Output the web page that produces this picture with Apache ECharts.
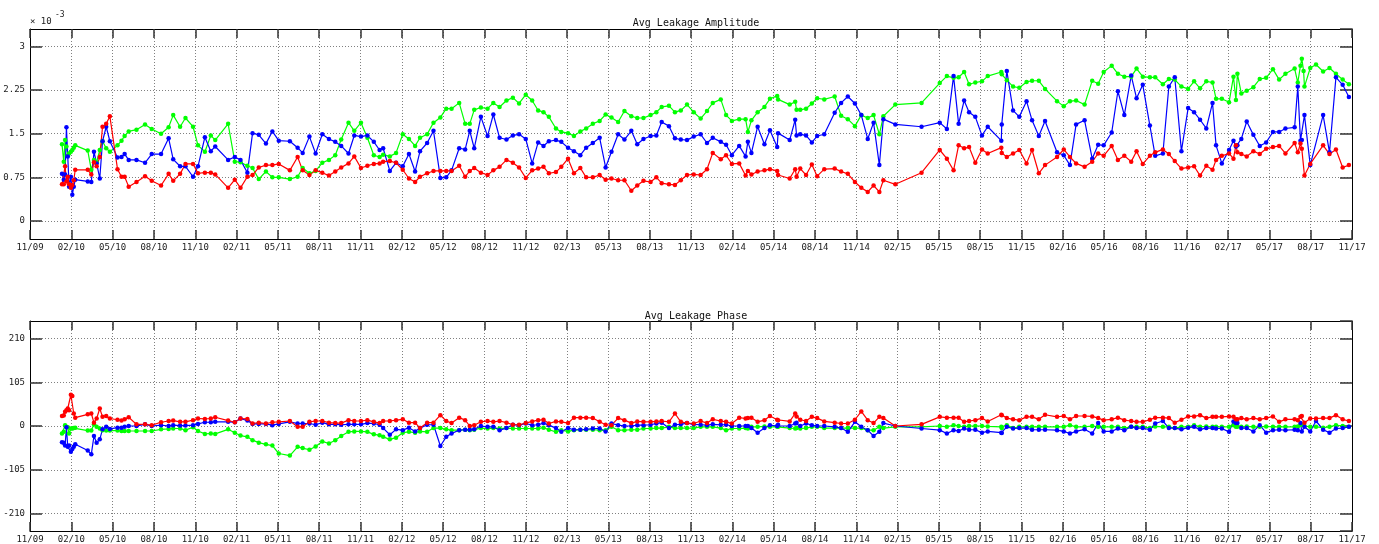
<!DOCTYPE html>
<html><head><meta charset="utf-8">
<script src="https://cdn.jsdelivr.net/npm/echarts@6/dist/echarts.min.js"></script>
<style>html,body{margin:0;padding:0;background:#fff}#c{width:1379px;height:544px}</style>
</head><body><div id="c"></div>
<script>
// x tick labels (every 3 months from Nov 2009)
const tickLabels = ['11/09','02/10','05/10','08/10','11/10','02/11','05/11','08/11','11/11','02/12','05/12','08/12','11/12','02/13','05/13','08/13','11/13','02/14','05/14','08/14','11/14','02/15','05/15','08/15','11/15','02/16','05/16','08/16','11/16','02/17','05/17','08/17','11/17'];
const ampTicks = [0, 0.75, 1.5, 2.25, 3];
const phaseTicks = [-210, -105, 0, 105, 210];

const dates = [
'2010-01-11','2010-01-15','2010-01-18','2010-01-21','2010-01-24','2010-01-27','2010-01-31','2010-02-03','2010-02-06','2010-02-09',
'2010-03-07','2010-03-15','2010-03-21','2010-03-27','2010-04-03','2010-04-09','2010-04-17','2010-04-25','2010-05-12','2010-05-21',
'2010-05-28','2010-06-06','2010-06-23','2010-07-12','2010-07-27','2010-08-17','2010-09-03','2010-09-13','2010-09-28','2010-10-10',
'2010-10-27','2010-11-07','2010-11-22','2010-12-05','2010-12-15','2011-01-13','2011-01-28','2011-02-09','2011-02-23','2011-03-06',
'2011-03-20','2011-04-05','2011-04-19','2011-05-03','2011-05-28','2011-06-14','2011-06-25','2011-07-10','2011-07-24','2011-08-08',
'2011-08-23','2011-09-06','2011-09-19','2011-10-05','2011-10-18','2011-11-02','2011-11-16','2011-11-30','2011-12-13','2011-12-21',
'2012-01-05','2012-01-19','2012-02-03','2012-02-16','2012-02-29','2012-03-11','2012-03-27','2012-04-10','2012-04-25','2012-05-08',
'2012-05-20','2012-06-06','2012-06-19','2012-06-29','2012-07-09','2012-07-24','2012-08-08','2012-08-21','2012-09-04','2012-09-19',
'2012-10-03','2012-10-17','2012-11-01','2012-11-15','2012-11-28','2012-12-10','2012-12-22','2013-01-07','2013-01-19','2013-02-03',
'2013-02-15','2013-02-28','2013-03-13','2013-03-28','2013-04-12','2013-04-25','2013-05-08','2013-05-23','2013-06-06','2013-06-21',
'2013-07-04','2013-07-18','2013-08-03','2013-08-16','2013-08-28','2013-09-13','2013-09-26','2013-10-09','2013-10-23','2013-11-07',
'2013-11-22','2013-12-06','2013-12-19','2014-01-06','2014-01-18','2014-01-31','2014-02-15','2014-02-28','2014-03-05','2014-03-13',
'2014-03-27','2014-04-11','2014-04-23','2014-05-09','2014-05-11','2014-06-06','2014-06-18','2014-06-21','2014-06-29','2014-07-12',
'2014-07-25','2014-08-06','2014-08-22','2014-09-14','2014-09-28','2014-10-13','2014-10-29','2014-11-12','2014-11-26','2014-12-09',
'2014-12-22','2014-12-31','2015-01-27','2015-03-24','2015-05-03','2015-05-19','2015-06-03','2015-06-14','2015-06-26','2015-07-07',
'2015-07-21','2015-08-05','2015-08-18','2015-09-17','2015-09-18','2015-09-29','2015-10-13','2015-10-27','2015-11-12','2015-11-24',
'2015-12-09','2015-12-23','2016-01-19','2016-02-03','2016-02-16','2016-02-29','2016-03-19','2016-04-05','2016-04-18','2016-04-30',
'2016-05-18','2016-06-01','2016-06-15','2016-06-30','2016-07-12','2016-07-26','2016-08-11','2016-08-23','2016-09-09','2016-09-22',
'2016-10-05','2016-10-20','2016-11-04','2016-11-17','2016-11-30','2016-12-14','2016-12-28','2017-01-05','2017-01-18','2017-02-03',
'2017-02-12','2017-02-17','2017-02-20','2017-02-28','2017-03-12','2017-03-27','2017-04-10','2017-04-24','2017-05-09','2017-05-23',
'2017-06-06','2017-06-26','2017-07-03','2017-07-09','2017-07-12','2017-07-16','2017-07-18','2017-07-31','2017-08-13','2017-08-29',
'2017-09-12','2017-09-26','2017-10-11','2017-10-25'];

// Avg leakage amplitude (x 10^-3)
const ampBlue = [
0.81,0.71,0.80,1.61,1.11,0.59,0.76,0.45,0.59,0.71,
0.68,0.67,1.19,0.99,0.73,1.37,1.62,1.37,1.09,1.10,
1.15,1.05,1.05,1.00,1.15,1.15,1.42,1.06,0.94,0.94,
0.76,0.94,1.44,1.20,1.28,1.05,1.10,1.05,0.83,1.51,
1.48,1.33,1.54,1.38,1.37,1.26,1.17,1.45,1.16,1.49,
1.41,1.36,1.29,1.16,1.47,1.45,1.47,1.36,1.22,1.25,
0.86,1.00,0.94,1.15,0.85,1.20,1.34,1.55,0.74,0.75,
0.87,1.25,1.23,1.55,1.25,1.79,1.46,1.83,1.43,1.40,
1.47,1.49,1.41,0.99,1.35,1.29,1.37,1.39,1.36,1.26,
1.20,1.13,1.26,1.34,1.43,0.92,1.19,1.49,1.40,1.55,
1.32,1.41,1.46,1.47,1.70,1.63,1.42,1.40,1.39,1.45,
1.49,1.34,1.43,1.36,1.31,1.13,1.29,1.11,1.36,1.17,
1.62,1.32,1.56,1.27,1.51,1.39,1.74,1.47,1.49,1.47,
1.35,1.46,1.49,1.86,2.03,2.14,2.02,1.82,1.41,1.69,
0.96,1.75,1.66,1.62,1.69,1.58,2.49,1.67,2.07,1.87,
1.79,1.47,1.62,1.38,1.66,2.58,1.90,1.79,2.06,1.73,
1.46,1.72,1.18,1.13,0.96,1.66,1.73,1.07,1.31,1.30,
1.52,2.23,1.82,2.50,2.11,2.34,1.64,1.12,1.16,2.31,
2.47,1.20,1.94,1.87,1.74,1.59,2.03,1.30,0.99,1.22,
1.38,1.28,1.30,1.41,1.71,1.48,1.29,1.35,1.53,1.53,
1.59,1.61,2.31,1.38,1.39,null,1.82,0.96,null,1.82,
1.18,2.47,2.34,2.13];
const ampGreen = [
1.32,1.02,1.39,1.28,1.12,1.16,1.19,1.22,1.26,1.30,
1.21,0.88,1.05,1.01,1.22,1.37,1.25,1.19,1.30,1.38,
1.46,1.54,1.57,1.66,1.58,1.50,1.61,1.82,1.62,1.77,
1.62,1.30,1.19,1.47,1.39,1.67,1.02,1.01,0.95,0.91,
0.72,0.85,0.75,0.75,0.72,0.76,0.91,0.82,0.86,1.00,
1.05,1.13,1.40,1.69,1.55,1.69,1.43,1.13,1.10,1.14,
1.11,1.17,1.49,1.41,1.29,1.43,1.49,1.69,1.78,1.93,
1.93,2.03,1.67,1.67,1.91,1.95,1.93,2.03,1.96,2.07,
2.12,2.02,2.17,2.07,1.90,1.87,1.79,1.59,1.53,1.51,
1.46,1.54,1.59,1.67,1.72,1.83,1.78,1.70,1.89,1.80,
1.77,1.77,1.82,1.87,1.96,1.98,1.87,1.90,2.00,1.87,
1.76,1.89,2.03,2.09,1.82,1.72,1.75,1.75,1.53,1.73,
1.87,1.96,2.10,2.15,2.09,2.00,2.05,1.91,1.91,1.93,
2.02,2.11,2.09,2.14,1.81,1.75,1.63,1.82,1.77,1.82,
1.49,1.80,2.00,2.03,2.37,2.49,2.46,2.47,2.56,2.35,
2.38,2.40,2.49,2.56,2.52,2.42,2.31,2.29,2.39,2.41,
2.41,2.27,2.06,1.97,2.06,2.07,2.00,2.41,2.36,2.56,
2.67,2.53,2.48,2.48,2.62,2.48,2.47,2.47,2.35,2.44,
2.43,2.31,2.27,2.40,2.28,2.40,2.38,2.10,2.10,2.04,
2.48,2.08,2.53,2.19,2.24,2.30,2.44,2.46,2.61,2.43,
2.53,2.62,2.38,2.67,2.79,2.58,2.31,2.63,2.69,2.57,
2.63,2.53,2.43,2.35];
const ampRed = [
0.63,0.63,0.94,0.68,0.76,0.63,0.57,0.62,0.70,0.88,
0.88,0.80,1.01,0.94,1.10,1.62,1.67,1.80,0.89,0.76,
0.76,0.59,0.67,0.77,0.69,0.61,0.81,0.69,0.81,0.98,
0.98,0.82,0.83,0.83,0.80,0.57,0.71,0.57,0.76,0.79,
0.92,0.96,0.96,0.98,0.87,1.10,0.87,0.79,0.87,0.83,
0.78,0.85,0.92,0.99,1.11,0.91,0.95,0.98,0.99,1.02,
1.03,1.00,0.88,0.73,0.67,0.76,0.82,0.86,0.86,0.86,
0.86,0.95,0.76,0.86,0.91,0.83,0.79,0.87,0.93,1.05,
1.00,0.92,0.74,0.87,0.90,0.93,0.82,0.84,0.93,1.07,
0.82,0.91,0.75,0.75,0.79,0.71,0.73,0.70,0.70,0.52,
0.61,0.69,0.67,0.75,0.65,0.63,0.62,0.70,0.79,0.80,
0.79,0.89,1.17,1.06,1.13,0.98,0.99,0.78,0.86,0.80,
0.85,0.87,0.89,0.86,0.79,0.73,0.89,0.76,0.90,0.79,
0.97,0.77,0.89,0.90,0.85,0.81,0.67,0.57,0.50,0.61,
0.50,0.70,0.63,0.83,1.22,1.07,0.87,1.30,1.25,1.27,
1.00,1.23,1.16,1.26,1.17,1.10,1.16,1.22,0.99,1.22,
0.82,0.96,1.10,1.23,1.10,0.99,0.93,1.02,1.16,1.12,
1.29,1.05,1.12,1.02,1.20,0.98,1.12,1.18,1.23,1.15,
1.03,0.90,0.92,0.94,0.78,0.95,0.88,1.05,1.12,1.16,
1.07,1.30,1.18,1.15,1.11,1.20,1.15,1.24,1.27,1.29,
1.16,1.34,1.18,1.33,1.24,null,0.78,0.98,null,1.30,
1.15,1.23,0.92,0.96];

// Avg leakage phase (degrees)
const phaseBlue = [
-39,-40,-47,-3,-50,-47,-62,-55,-50,-44,
-59,-68,-24,-40,-32,-8,-2,-7,-4,-4,
-2,0,0,4,0,2,0,2,1,1,
2,5,9,9,10,10,9,18,13,5,
5,5,2,5,10,6,6,6,3,8,
4,4,3,4,4,4,7,6,3,-5,
-21,-8,-10,-4,-13,-5,3,3,-48,-26,
-18,-10,-9,-9,-8,0,-2,-2,-10,-5,
3,2,6,2,3,7,2,-5,-14,-5,
-9,-9,-8,-6,-6,-13,6,2,0,0,
2,2,3,6,8,-5,3,4,7,4,
3,2,4,3,3,0,0,0,0,-5,
-16,-5,2,0,3,0,6,8,0,6,
2,0,0,-2,-5,-14,10,-2,-10,-24,
-14,7,0,-6,-10,-18,-10,-12,-6,-9,
-9,-16,-13,-16,-17,-2,-6,-5,-5,-9,
-9,-9,-10,-13,-18,-13,-8,-18,7,-13,
-13,-6,-10,-2,-5,-5,-9,6,12,-5,
-5,-8,-4,-2,-8,-5,-5,-6,-6,-14,
11,7,7,-5,-5,-13,2,-16,-10,-9,
-10,-9,-10,7,-13,null,-2,-13,12,-9,
-16,-6,-5,-2];
const phaseGreen = [
-18,-14,2,-2,-3,-18,-6,-6,-5,-4,
-11,-11,4,-2,-6,-10,-11,-11,-11,-12,
-12,-12,-12,-12,-12,-8,-7,-6,-6,-10,
-3,-12,-19,-18,-19,-8,-16,-23,-26,-34,
-40,-44,-47,-66,-71,-50,-53,-57,-49,-37,
-42,-34,-24,-14,-13,-13,-14,-20,-22,-26,
-32,-28,-16,-14,-16,-13,-14,-5,-5,-8,
-10,-10,-9,-10,-9,-5,-6,-5,-6,-5,
-6,-6,-6,-6,-6,-4,-9,-14,-10,-13,
-10,-9,-9,-9,-10,-10,-2,-10,-10,-9,
-9,-6,-6,-5,-5,-2,-5,-5,-5,-5,
-2,-2,-2,-5,-10,-6,-6,-5,-6,-2,
-2,-1,-2,-2,-2,-5,-6,-5,-6,-5,
-2,-2,-5,-5,-5,-5,-5,-5,-10,-10,
-2,-5,-2,-2,0,-2,2,0,-2,0,
0,0,-1,-2,-5,2,-5,-2,-2,-2,
-2,-2,-2,-2,2,-2,-2,0,-2,-2,
-2,-2,-5,-2,-2,-2,-5,-1,-2,-2,
-5,-2,-2,2,-2,-1,-2,-2,-2,-2,
2,-2,-2,-2,-1,-2,-2,-1,-2,-2,
-2,-2,-1,3,3,null,0,-2,-2,-4,
-2,2,0,-2];
const phaseRed = [
24,25,34,38,42,38,75,72,30,20,
28,30,8,18,42,22,24,18,15,13,
16,21,4,4,2,9,12,13,10,10,
14,18,17,18,21,13,9,18,17,6,
8,6,9,10,12,-2,-2,10,12,12,
8,7,7,14,12,12,14,10,7,12,
12,14,16,8,8,-5,8,8,26,12,
7,20,14,0,2,10,12,10,12,8,
3,3,7,11,14,15,6,11,10,7,
20,20,20,19,10,3,2,19,14,7,
11,10,10,11,12,10,30,10,7,6,
12,7,16,12,10,6,20,18,19,20,
10,14,24,15,14,11,30,23,15,12,
22,19,11,8,6,6,15,35,14,7,
22,19,0,4,22,20,20,20,10,12,
14,19,11,27,26,19,16,14,22,22,
16,27,22,24,16,24,24,23,19,14,
16,20,14,12,10,10,15,20,20,19,
8,15,23,23,26,19,22,22,22,23,
22,16,16,19,16,19,16,19,23,10,
16,16,14,22,24,null,8,18,18,19,
19,26,16,12];

// months elapsed since 1 Nov 2009 (fractional)
function monthIndex(s) {
  const p = s.split('-').map(Number);
  const dim = new Date(p[0], p[1], 0).getDate();
  return (p[0] - 2009) * 12 + (p[1] - 11) + (p[2] - 1) / dim;
}
function pairs(vals) {
  const out = [];
  dates.forEach((d, i) => { if (vals[i] != null) out.push([monthIndex(d), vals[i]]); });
  return out;
}

const FONT = 'DejaVu Sans Mono';
const GRIDS = [{left: 30, right: 27, top: 29, height: 210}, {left: 30, right: 27, top: 321, height: 210}];
const splitStyle = {show: true, lineStyle: {color: '#808080', width: 1, type: [1, 2]}};
const tickStyle = {lineStyle: {color: '#333', width: 1.5}};

function xAxes(gi) {
  const base = {type: 'value', gridIndex: gi, min: 0, max: tickLabels.length * 3 - 3, interval: 3,
    axisLine: {show: true, onZero: false, lineStyle: {color: '#000', width: 1}}};
  return [
    Object.assign({}, base, {position: 'bottom',
      axisTick: Object.assign({show: true, inside: true, length: 9}, tickStyle),
      axisLabel: {show: true, fontFamily: FONT, fontSize: 9, color: '#222', margin: 4,
        formatter: v => tickLabels[Math.round(v / 3)] || ''},
      splitLine: splitStyle}),
    Object.assign({}, base, {position: 'top',
      axisTick: Object.assign({show: true, inside: true, length: 9}, tickStyle),
      axisLabel: {show: false}, splitLine: {show: false}})
  ];
}
function yAxes(gi, min, max, ticks) {
  const step = ticks[1] - ticks[0];
  const base = {type: 'value', gridIndex: gi, min: min, max: max, minInterval: step, maxInterval: step,
    axisLine: {show: true, onZero: false, lineStyle: {color: '#000', width: 1}}};
  return [
    Object.assign({}, base, {position: 'left',
      axisTick: Object.assign({show: true, inside: true, length: 12}, tickStyle),
      axisLabel: {show: true, fontFamily: FONT, fontSize: 9, color: '#222', margin: 5,
        showMinLabel: false, showMaxLabel: false,
        formatter: v => {
          const t = ticks.find(tv => Math.abs(tv - v) < 1e-6);
          return t === undefined ? '' : String(t);
        }},
      splitLine: splitStyle}),
    Object.assign({}, base, {position: 'right',
      axisTick: Object.assign({show: true, inside: true, length: 12}, tickStyle),
      axisLabel: {show: false}, splitLine: {show: false}})
  ];
}

function lineSeries(name, color, xi, yi, vals) {
  return {name: name, type: 'line', xAxisIndex: xi, yAxisIndex: yi, data: pairs(vals),
    symbol: 'circle', symbolSize: 4.5, showSymbol: true, connectNulls: true,
    lineStyle: {color: color, width: 1.2}, itemStyle: {color: color}, animation: false, z: 3};
}

const chart = echarts.init(document.getElementById('c'), null, {renderer: 'canvas'});
chart.setOption({
  backgroundColor: '#fff',
  animation: false,
  title: [
    {text: 'Avg Leakage Amplitude', left: 691, top: 13, textAlign: 'center',
      textStyle: {fontFamily: FONT, fontSize: 10, fontWeight: 'normal', color: '#111'}},
    {text: 'Avg Leakage Phase', left: 691, top: 306, textAlign: 'center',
      textStyle: {fontFamily: FONT, fontSize: 10, fontWeight: 'normal', color: '#111'}}
  ],
  graphic: [
    {type: 'text', left: 30, top: 17, style: {text: '× 10', fontFamily: FONT, fontSize: 9, fill: '#222'}},
    {type: 'text', left: 55, top: 11, style: {text: '-3', fontFamily: FONT, fontSize: 8, fill: '#222'}}
  ],
  grid: GRIDS,
  xAxis: xAxes(0).concat(xAxes(1)),
  yAxis: yAxes(0, -0.31, 3.3, ampTicks).concat(yAxes(1, -252, 252, phaseTicks)),
  series: [
    lineSeries('Amplitude green', '#00ff00', 0, 0, ampGreen),
    lineSeries('Amplitude blue', '#0000ff', 0, 0, ampBlue),
    lineSeries('Amplitude red', '#ff0000', 0, 0, ampRed),
    lineSeries('Phase green', '#00ff00', 2, 2, phaseGreen),
    lineSeries('Phase blue', '#0000ff', 2, 2, phaseBlue),
    lineSeries('Phase red', '#ff0000', 2, 2, phaseRed)
  ]
});
</script>
</body></html>
